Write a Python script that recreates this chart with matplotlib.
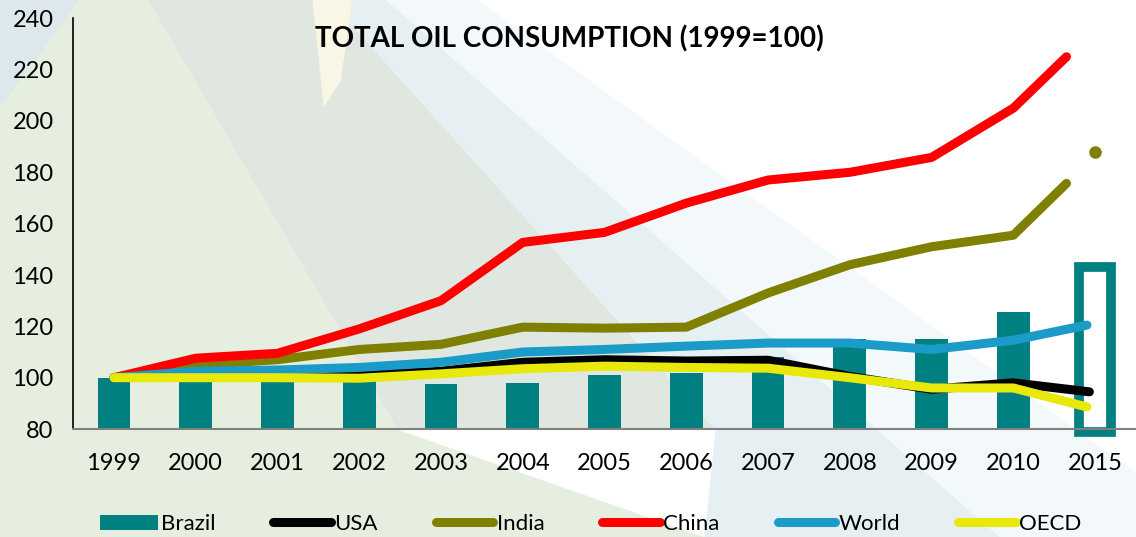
import numpy as np
import matplotlib.pyplot as plt
from matplotlib.patches import Polygon

years = ["1999", "2000", "2001", "2002", "2003", "2004", "2005", "2006",
         "2007", "2008", "2009", "2010", "2015"]
brazil = [100, 100, 100, 100, 97.5, 98, 101, 102, 108, 115, 115, 125.5, 143]
usa = [100, 100.5, 101, 101, 102.5, 106, 107, 106.5, 106.8, 100.5, 95.5, 98, 94.5]
india = [100, 105, 107, 111, 113, 119.7, 119.3, 119.7, 133, 144, 151, 155.5, 175.7]
india_2015_point = 187.8
china = [100, 107.6, 109.5, 119, 130, 152.7, 156.6, 168, 177, 180, 185.8, 205, 225]
world = [100, 102.5, 103, 104, 106, 110, 111, 112.3, 113.5, 113.5, 111, 114.6, 120.5]
oecd = [100, 100, 100, 99.8, 101.5, 103.5, 104.5, 104, 103.7, 100, 96, 96, 88.6]

plt.rcParams['font.family'] = ['Lato', 'DejaVu Sans']

fig = plt.figure(figsize=(11.36, 5.37), dpi=100)
fig.patch.set_facecolor("white")

# soft background shapes (slide decoration), on their own axes behind everything
bgax = fig.add_axes([0, 0, 1, 1], zorder=-10)
bgax.set_xlim(0, 1)
bgax.set_ylim(0, 1)
bgax.axis("off")
bg = [
    ([(0.34, 1), (0.42, 1), (1, 0.12), (1, 0), (0.88, 0)], "#f3f8fa"),
    ([(0, 1), (0.13, 1), (0.35, 0.2), (0.62, 0), (0, 0)], "#e6efdf"),
    ([(0.13, 1), (0.29, 1), (0.63, 0.2), (0.35, 0.2)], "#e0e7e1"),
    ([(0.29, 1), (0.34, 1), (0.88, 0.0), (0.62, 0.0), (0.63, 0.2)], "#e6f0f2"),
    ([(0.275, 1), (0.31, 1), (0.30, 0.85), (0.285, 0.8)], "#f9f6e6"),
    ([(0, 1), (0.07, 1), (0, 0.8)], "#dde8ec"),
]
for pts, col in bg:
    bgax.add_patch(Polygon(pts, closed=True, facecolor=col, edgecolor="none"))

ax = fig.add_axes([0.0643, 0.201, 0.9357, 0.765])
ax.set_facecolor("none")

x = np.arange(len(years))
bar_w = 0.4
bar_handle = ax.bar(x[:-1], brazil[:-1], width=bar_w, color="#008080", zorder=2)
ax.bar(x[-1], brazil[-1] - 79, bottom=79, width=bar_w, facecolor="none",
       edgecolor="#008080", linewidth=7, zorder=2, clip_on=False)

# lines stop a little short of the last category in the original
short = {"USA": 0.07, "India": 0.35, "China": 0.35, "World": 0.1, "OECD": 0.1}
series = [("USA", usa, "black"), ("India", india, "#808000"),
          ("China", china, "#ff0000"), ("World", world, "#1a9bc8"),
          ("OECD", oecd, "#e8e80a")]
handles = [bar_handle]
labels = ["Brazil"]
for name, vals, col in series:
    xs = x.astype(float)
    xs[-1] -= short[name]
    ln, = ax.plot(xs, vals, color=col, linewidth=6.5, solid_capstyle="round",
                  solid_joinstyle="round", zorder=3)
    handles.append(ln)
    labels.append(name)

ax.plot([x[-1]], [india_2015_point], "o", color="#808000", markersize=8, zorder=3)

ax.set_xlim(-0.5, 12.5)
ax.set_ylim(80, 240)
ax.set_yticks(range(80, 241, 20))
ax.set_xticks(x)
ax.set_xticklabels(years)
ax.tick_params(axis="both", length=0, labelsize=17)
ax.tick_params(axis="x", pad=17)
ax.tick_params(axis="y", pad=14)
for s in ["top", "right"]:
    ax.spines[s].set_visible(False)
ax.spines["left"].set_color("black")
ax.spines["left"].set_linewidth(1.2)
ax.spines["bottom"].set_color("#808080")
ax.spines["bottom"].set_linewidth(1.5)

ax.text(0.467, 0.95, "TOTAL OIL CONSUMPTION (1999=100)", transform=ax.transAxes,
        ha="center", va="center", fontsize=20, fontweight="bold", zorder=5)

fig.legend(handles, labels, loc="center", bbox_to_anchor=(0.52, 0.024), ncol=6,
           frameon=False, fontsize=16, handlelength=2.6, handletextpad=0.15,
           columnspacing=2.6)

fig.savefig("out.png", dpi=100)
